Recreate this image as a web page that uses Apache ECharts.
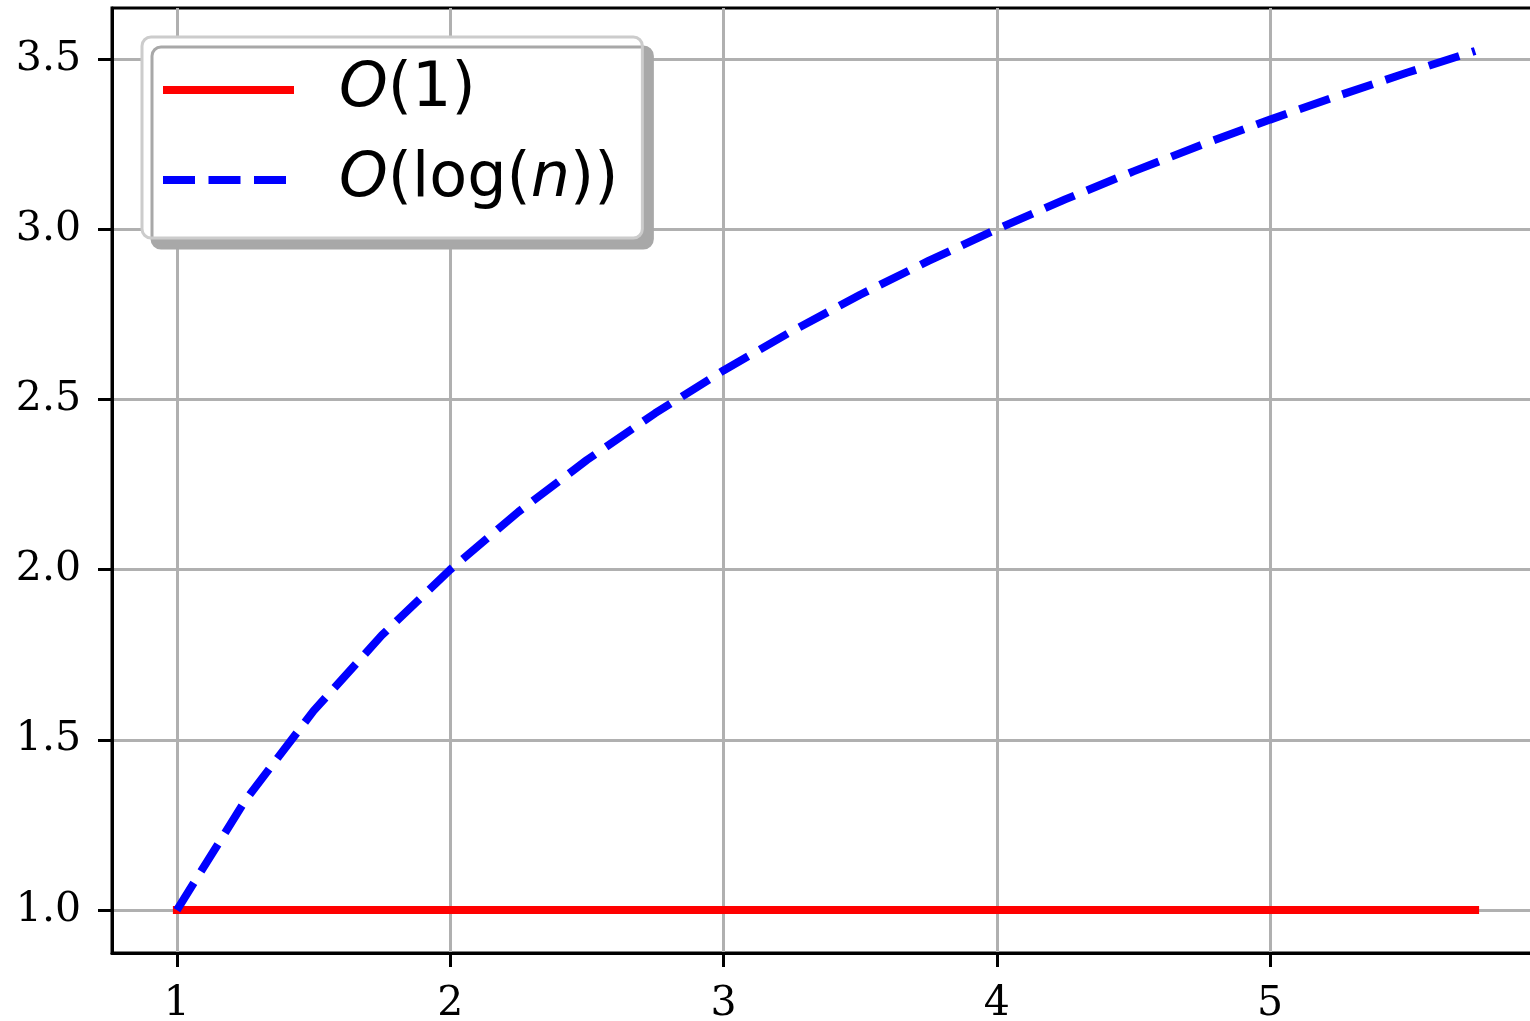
<!DOCTYPE html>
<html>
<head>
<meta charset="utf-8">
<title>O(1) vs O(log n)</title>
<script src="https://cdn.jsdelivr.net/npm/echarts@6/dist/echarts.min.js"></script>
<style>
  html, body { margin: 0; padding: 0; background: #ffffff; }
  #chart { width: 1530px; height: 1021px; }
</style>
</head>
<body>
<div id="chart"></div>
<script>
// Input sizes n
const nValues = [1, 1.25, 1.5, 1.75, 2, 2.25, 2.5, 2.75, 3, 3.25, 3.5, 3.75, 4, 4.25, 4.5, 4.75, 5, 5.25, 5.5, 5.75];
// Constant cost
const constCost = [1, 1, 1, 1, 1, 1, 1, 1, 1, 1, 1, 1, 1, 1, 1, 1, 1, 1, 1, 1];
// Logarithmic cost
const logCost = [1, 1.3219, 1.585, 1.8074, 2, 2.1699, 2.3219, 2.4594, 2.585, 2.7004, 2.8074, 2.9069, 3, 3.0875, 3.1699, 3.2479, 3.3219, 3.3923, 3.4594, 3.5236];
// Tick positions
const xTicks = [1, 2, 3, 4, 5];
const yTicks = [1.0, 1.5, 2.0, 2.5, 3.0, 3.5];
const seriesNames = ['O(1)', 'O(log(n))'];

const pairs = (xs, ys) => xs.map((x, i) => [x, ys[i]]);

const tickFont = { fontFamily: 'DejaVu Serif', fontSize: 41, color: '#000' };

const chart = echarts.init(document.getElementById('chart'), null, { renderer: 'canvas' });

chart.setOption({
  backgroundColor: '#ffffff',
  animation: false,
  grid: {
    left: 112, top: 8, width: 1428, bottom: 68,
    containLabel: false, outerBoundsMode: 'none',
    show: true, borderColor: '#000', borderWidth: 3, backgroundColor: 'transparent'
  },
  xAxis: {
    type: 'value',
    min: 0.7625, max: 5.9875,
    axisLine: { show: true, lineStyle: { color: '#000', width: 3 } },
    axisTick: { show: true, length: 14, lineStyle: { color: '#000', width: 3 }, customValues: xTicks },
    axisLabel: { ...tickFont, margin: 31, customValues: xTicks, formatter: v => String(v) },
    splitLine: { show: true, lineStyle: { color: '#b0b0b0', width: 3 } }
  },
  yAxis: {
    type: 'value',
    min: 0.87382, max: 3.64978,
    axisLine: { show: true, lineStyle: { color: '#000', width: 3 } },
    axisTick: { show: true, length: 14, lineStyle: { color: '#000', width: 3 }, customValues: yTicks },
    axisLabel: { ...tickFont, margin: 31, customValues: yTicks, formatter: v => v.toFixed(1) },
    splitLine: { show: true, lineStyle: { color: '#b0b0b0', width: 3 } }
  },
  legend: {
    left: 142, top: 37,
    orient: 'vertical',
    padding: [21, 24, 26, 17],
    itemGap: 26,
    itemWidth: 131, itemHeight: 8,
    backgroundColor: '#ffffff',
    borderColor: '#cccccc', borderWidth: 3, borderRadius: 9,
    shadowColor: '#a8a8a8', shadowBlur: 0, shadowOffsetX: 10, shadowOffsetY: 10,
    itemStyle: { opacity: 0 },
    lineStyle: { width: 8, cap: 'butt' },
    data: seriesNames,
    formatter: name => name === 'O(1)' ? '{i|O}(1)' : '{i|O}(log({i|n}))',
    textStyle: {
      fontFamily: 'DejaVu Sans', fontSize: 62, color: '#000', lineHeight: 64, padding: [0, 0, 0, 40],
      rich: {
        i: { fontFamily: 'DejaVu Sans', fontStyle: 'italic', fontSize: 62, color: '#000', lineHeight: 64 }
      }
    }
  },
  series: [
    {
      name: seriesNames[0],
      type: 'line',
      data: pairs(nValues, constCost),
      symbol: 'none',
      lineStyle: { color: '#ff0000', width: 8, cap: 'square' },
      itemStyle: { color: '#ff0000' },
      z: 3
    },
    {
      name: seriesNames[1],
      type: 'line',
      data: pairs(nValues, logCost),
      symbol: 'none',
      lineStyle: { color: '#0000ff', width: 8, type: [32, 13.5], cap: 'butt' },
      itemStyle: { color: '#0000ff' },
      z: 4
    }
  ]
});
</script>
</body>
</html>
